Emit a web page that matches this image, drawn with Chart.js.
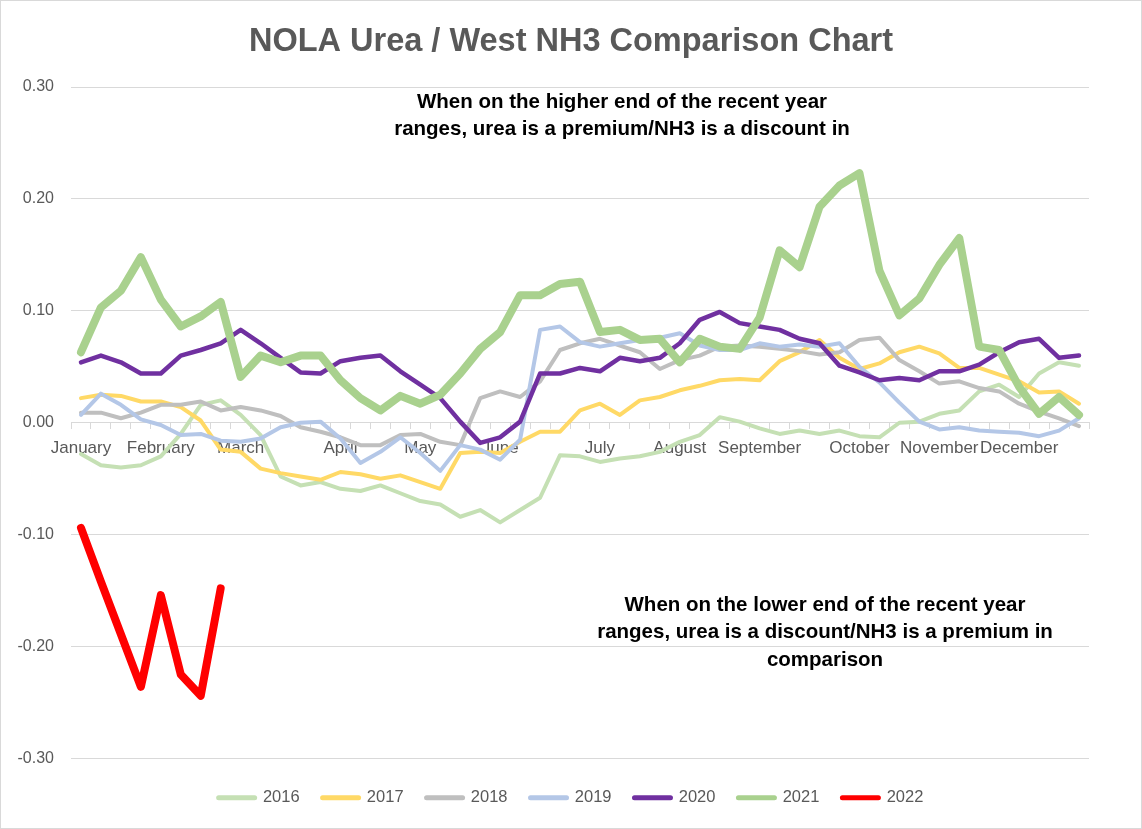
<!DOCTYPE html>
<html>
<head>
<meta charset="utf-8">
<title>NOLA Urea / West NH3 Comparison Chart</title>
<script src="https://cdn.jsdelivr.net/npm/chart.js@4.4.1/dist/chart.umd.min.js"></script>
<style>
  html, body { margin: 0; padding: 0; background: #fff; }
  #wrap { width: 1142px; height: 829px; box-sizing: border-box; border: 1px solid #d9d9d9; }
</style>
</head>
<body>
<div id="wrap"><canvas id="chart"></canvas></div>
<script>
// weekly categories, month name on the first week of each month
const weekLabels = [
  'January', '', '', '', 'February', '', '', '', 'March', '', '', '', '',
  'April', '', '', '', 'May', '', '', '', 'June', '', '', '', '',
  'July', '', '', '', 'August', '', '', '', 'September', '', '', '', '',
  'October', '', '', '', 'November', '', '', '', 'December', '', '', ''
];

const s2016 = [-0.028, -0.038, -0.040, -0.038, -0.030, -0.010, 0.016, 0.020, 0.007, -0.011,
  -0.048, -0.056, -0.053, -0.059, -0.061, -0.056, -0.063, -0.070, -0.073, -0.084,
  -0.078, -0.089, -0.078, -0.067, -0.029, -0.030, -0.035, -0.032, -0.030, -0.026,
  -0.017, -0.011, 0.005, 0.001, -0.005, -0.010, -0.007, -0.010, -0.007, -0.012,
  -0.013, 0.000, 0.001, 0.008, 0.011, 0.028, 0.034, 0.023, 0.044, 0.054, 0.051];

const s2017 = [0.022, 0.025, 0.024, 0.019, 0.019, 0.014, 0.002, -0.024, -0.026, -0.041,
  -0.045, -0.048, -0.051, -0.044, -0.046, -0.050, -0.047, -0.053, -0.059, -0.027,
  -0.026, -0.027, -0.017, -0.008, -0.008, 0.011, 0.017, 0.007, 0.020, 0.023,
  0.029, 0.033, 0.038, 0.039, 0.038, 0.055, 0.063, 0.074, 0.058, 0.048,
  0.053, 0.063, 0.068, 0.062, 0.049, 0.049, 0.043, 0.037, 0.027, 0.028, 0.017];

const s2018 = [0.009, 0.009, 0.004, 0.009, 0.016, 0.016, 0.019, 0.011, 0.014, 0.011,
  0.006, -0.004, -0.008, -0.013, -0.020, -0.020, -0.011, -0.010, -0.017, -0.020,
  0.022, 0.028, 0.023, 0.037, 0.065, 0.071, 0.075, 0.069, 0.063, 0.048,
  0.056, 0.060, 0.068, 0.069, 0.068, 0.066, 0.064, 0.061, 0.063, 0.074,
  0.076, 0.056, 0.046, 0.035, 0.037, 0.031, 0.028, 0.017, 0.010, 0.004, -0.003];

const s2019 = [0.007, 0.026, 0.016, 0.003, -0.002, -0.011, -0.010, -0.016, -0.017, -0.014,
  -0.004, 0.000, 0.001, -0.014, -0.036, -0.026, -0.013, -0.027, -0.043, -0.020,
  -0.024, -0.033, -0.015, 0.083, 0.086, 0.072, 0.068, 0.071, 0.074, 0.076,
  0.080, 0.069, 0.065, 0.065, 0.071, 0.068, 0.070, 0.068, 0.071, 0.050,
  0.036, 0.018, 0.001, -0.006, -0.004, -0.007, -0.008, -0.009, -0.012, -0.007, 0.004];

const s2020 = [0.054, 0.060, 0.054, 0.044, 0.044, 0.060, 0.065, 0.071, 0.083, 0.071,
  0.058, 0.045, 0.044, 0.055, 0.058, 0.060, 0.046, 0.034, 0.022, 0.001,
  -0.018, -0.013, 0.001, 0.044, 0.044, 0.049, 0.046, 0.058, 0.055, 0.058,
  0.071, 0.092, 0.099, 0.089, 0.086, 0.083, 0.075, 0.071, 0.051, 0.045,
  0.038, 0.040, 0.038, 0.046, 0.046, 0.052, 0.063, 0.072, 0.075, 0.058, 0.060];

const s2021 = [0.063, 0.103, 0.118, 0.148, 0.110, 0.086, 0.095, 0.108, 0.041, 0.060,
  0.054, 0.060, 0.060, 0.038, 0.022, 0.011, 0.024, 0.017, 0.025, 0.044,
  0.066, 0.081, 0.114, 0.114, 0.124, 0.126, 0.081, 0.083, 0.074, 0.075,
  0.054, 0.075, 0.068, 0.066, 0.094, 0.154, 0.139, 0.193, 0.212, 0.223,
  0.136, 0.096, 0.111, 0.141, 0.165, 0.068, 0.065, 0.032, 0.008, 0.023, 0.007];

const s2022 = [-0.094, -0.142, -0.189, -0.236, -0.154, -0.225, -0.244, -0.148];

const yTicks = [-0.30, -0.20, -0.10, 0.00, 0.10, 0.20, 0.30];

const notes = [
  { x: 621, y: 101, lines: ['When on the higher end of the recent year', 'ranges, urea is a premium/NH3 is a discount in'] },
  { x: 824, y: 604, lines: ['When on the lower end of the recent year', 'ranges, urea is a discount/NH3 is a premium in', 'comparison'] }
];

Chart.defaults.font.family = "'Liberation Sans', Arial, sans-serif";

const line = (label, data, color, width, order) => ({
  label, data,
  borderColor: color,
  backgroundColor: color,
  borderWidth: width,
  borderJoinStyle: 'round',
  borderCapStyle: 'round',
  pointRadius: 0,
  pointHoverRadius: 0,
  tension: 0,
  fill: false,
  order
});

// empty boxes that only reserve room (right of plot, between plot and legend)
const spacer = (position, size) => ({
  position,
  display: true,
  grid: { display: false },
  border: { display: false },
  ticks: { display: false },
  afterFit: s => { if (position === 'right') s.width = size; else s.height = size; }
});

const notesPlugin = {
  id: 'notes',
  afterDraw(chart) {
    const ctx = chart.ctx;
    ctx.save();
    ctx.fillStyle = '#000';
    ctx.font = "bold 20.5px 'Liberation Sans', Arial, sans-serif";
    ctx.textAlign = 'center';
    ctx.textBaseline = 'middle';
    notes.forEach(n => {
      n.lines.forEach((t, i) => ctx.fillText(t, n.x, n.y + i * 27.5));
    });
    ctx.restore();
  }
};

new Chart(document.getElementById('chart').getContext('2d'), {
  type: 'line',
  data: {
    labels: weekLabels,
    datasets: [
      line('2016', s2016, '#c5e0b4', 4, 7),
      line('2017', s2017, '#ffd966', 4, 6),
      line('2018', s2018, '#bfbfbf', 4, 5),
      line('2019', s2019, '#b4c7e7', 4, 4),
      line('2020', s2020, '#7030a0', 4.5, 3),
      line('2021', s2021, '#a9d18e', 8, 2),
      line('2022', s2022, '#ff0000', 8, 1)
    ]
  },
  options: {
    responsive: true,
    maintainAspectRatio: false,
    animation: false,
    layout: { padding: { top: 4, right: 0, bottom: 12, left: 0 } },
    scales: {
      x: {
        position: { y: 0 },
        offset: true,
        grid: { display: true, drawOnChartArea: false, drawTicks: true, tickLength: 6, offset: true, color: '#d9d9d9' },
        border: { display: true, color: '#d9d9d9' },
        ticks: { autoSkip: false, maxRotation: 0, minRotation: 0, color: '#595959', font: { size: 17 }, padding: 9 }
      },
      xGap: Object.assign({ type: 'category' }, spacer('bottom', 8)),
      y: {
        min: yTicks[0],
        max: yTicks[yTicks.length - 1],
        afterBuildTicks: s => { s.ticks = yTicks.map(v => ({ value: v })); },
        afterFit: s => { s.width = 70; },
        grid: { color: '#d9d9d9', drawTicks: false },
        border: { display: false },
        ticks: { color: '#595959', font: { size: 16 }, padding: 17, callback: v => v.toFixed(2) }
      },
      yGap: Object.assign({ type: 'linear' }, spacer('right', 52))
    },
    plugins: {
      title: {
        display: true,
        text: 'NOLA Urea / West NH3 Comparison Chart',
        color: '#595959',
        font: { size: 32.5, weight: 'bold' },
        padding: { top: 18, bottom: 25 }
      },
      legend: {
        position: 'bottom',
        labels: {
          usePointStyle: true,
          pointStyle: 'line',
          pointStyleWidth: 36,
          color: '#595959',
          font: { size: 16.5 },
          padding: 23,
          sort: (a, b) => a.datasetIndex - b.datasetIndex,
          generateLabels: chart => Chart.defaults.plugins.legend.labels.generateLabels(chart)
            .map(l => Object.assign(l, { lineWidth: 5, lineCap: 'round' }))
        }
      },
      tooltip: { enabled: false }
    }
  },
  plugins: [notesPlugin]
});
</script>
</body>
</html>
